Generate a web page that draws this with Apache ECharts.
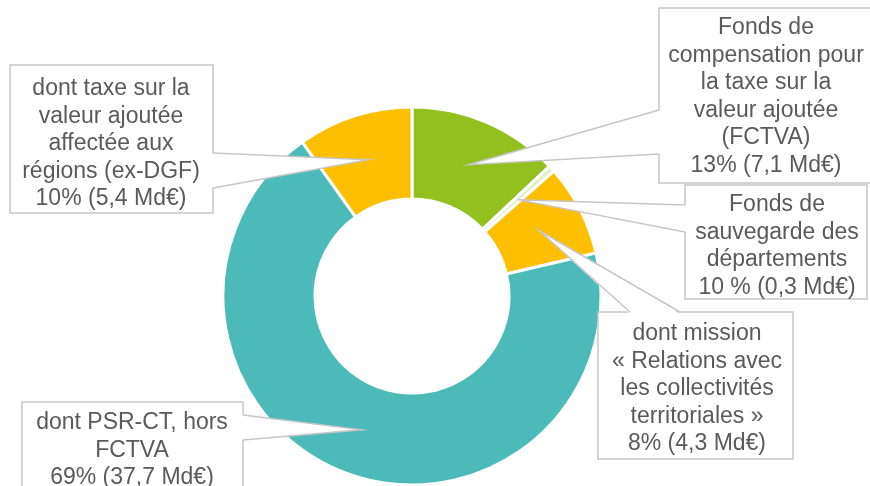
<!DOCTYPE html>
<html>
<head>
<meta charset="utf-8">
<script src="https://cdn.jsdelivr.net/npm/echarts@6/dist/echarts.min.js"></script>
<style>
  html, body { margin: 0; padding: 0; background: #fff; }
  #chart { width: 870px; height: 486px; }
</style>
</head>
<body>
<div id="chart"></div>
<script>
// Funding breakdown (Md€), clockwise from 12 o'clock
const categories = [
  'Fonds de compensation pour la taxe sur la valeur ajoutée (FCTVA)',
  'Fonds de sauvegarde des départements',
  'dont mission « Relations avec les collectivités territoriales »',
  'dont PSR-CT, hors FCTVA',
  'dont taxe sur la valeur ajoutée affectée aux régions (ex-DGF)'
];
const values = [7.1, 0.3, 4.3, 37.7, 5.4];
const colors = ['#93c01f', '#e2edc6', '#fdbf00', '#4dbaba', '#fdbf00'];

// Callout texts, one line per entry
const labelLines = [
  ['Fonds de', 'compensation pour', 'la taxe sur la', 'valeur ajoutée', '(FCTVA)', '13% (7,1 Md€)'],
  ['Fonds de', 'sauvegarde des', 'départements', '10 % (0,3 Md€)'],
  ['dont mission', '« Relations avec', 'les collectivités', 'territoriales »', '8% (4,3 Md€)'],
  ['dont PSR-CT, hors', 'FCTVA', '69% (37,7 Md€)'],
  ['dont taxe sur la', 'valeur ajoutée', 'affectée aux', 'régions (ex-DGF)', '10% (5,4 Md€)']
];

// Callout box placement: box rect, which side the pointer leaves from,
// the span of the pointer base on that side, and the text anchor.
const callouts = [
  { x: 659, y: 8,   w: 222, h: 175, side: 'left',  base: [110, 154], tx: 766, ty: 14 },
  { x: 685, y: 185, w: 182, h: 114, side: 'left',  base: [205, 232], tx: 777, ty: 191 },
  { x: 598, y: 312, w: 195, h: 147, side: 'top',   base: [630, 680], tx: 697, ty: 320 },
  { x: 22,  y: 402, w: 221, h: 100, side: 'right', base: [415, 440], tx: 132, ty: 409 },
  { x: 10,  y: 65,  w: 203, h: 148, side: 'right', base: [153, 188], tx: 111, ty: 75 }
];

const LINE_H = 27.5;
const BORDER = '#c6c6c6';
const TEXT = '#5a5a5a';
const FONT = '"Liberation Sans", Arial, sans-serif';

const chart = echarts.init(document.getElementById('chart'), null, { renderer: 'canvas' });

chart.setOption({
  animation: false,
  backgroundColor: '#ffffff',
  series: [{
    type: 'pie',
    center: [412, 296],
    radius: [97, 189],
    startAngle: 90,
    clockwise: true,
    avoidLabelOverlap: false,
    label: { show: false },
    labelLine: { show: false },
    emphasis: { disabled: true },
    itemStyle: { borderColor: '#ffffff', borderWidth: 3 },
    data: values.map((v, i) => ({
      name: categories[i],
      value: v,
      itemStyle: { color: colors[i] }
    }))
  }]
});

// Build the callouts: pointer tips sit at the middle of each slice,
// taken from the pie's own computed layout.
const pieData = chart.getModel().getSeriesByIndex(0).getData();
const elements = [];

callouts.forEach((c, i) => {
  const lay = pieData.getItemLayout(i);
  const mid = (lay.startAngle + lay.endAngle) / 2;
  const rMid = (lay.r + lay.r0) / 2;
  const tip = [lay.cx + rMid * Math.cos(mid), lay.cy + rMid * Math.sin(mid)];

  // base points on the box edge, and slightly inside to hide the border there
  let a, b, ai, bi;
  if (c.side === 'left') {
    a = [c.x, c.base[0]]; b = [c.x, c.base[1]];
    ai = [c.x + 2, c.base[0]]; bi = [c.x + 2, c.base[1]];
  } else if (c.side === 'right') {
    a = [c.x + c.w, c.base[0]]; b = [c.x + c.w, c.base[1]];
    ai = [c.x + c.w - 2, c.base[0]]; bi = [c.x + c.w - 2, c.base[1]];
  } else {
    a = [c.base[0], c.y]; b = [c.base[1], c.y];
    ai = [c.base[0], c.y + 2]; bi = [c.base[1], c.y + 2];
  }

  elements.push({
    type: 'rect', z: 10, silent: true,
    shape: { x: c.x, y: c.y, width: c.w, height: c.h },
    style: { fill: '#ffffff', stroke: BORDER, lineWidth: 1.5 }
  });
  elements.push({
    type: 'polygon', z: 11, silent: true,
    shape: { points: [ai, tip, bi] },
    style: { fill: '#ffffff', stroke: null }
  });
  elements.push({
    type: 'polyline', z: 12, silent: true,
    shape: { points: [a, tip, b] },
    style: { fill: null, stroke: BORDER, lineWidth: 1.5 }
  });
  elements.push({
    type: 'text', z: 13, silent: true,
    x: c.tx, y: c.ty,
    style: {
      text: labelLines[i].join('\n'),
      fill: TEXT,
      font: '23px ' + FONT,
      lineHeight: LINE_H,
      align: 'center',
      verticalAlign: 'top'
    }
  });
});

chart.setOption({ graphic: { elements: elements } });
</script>
</body>
</html>
